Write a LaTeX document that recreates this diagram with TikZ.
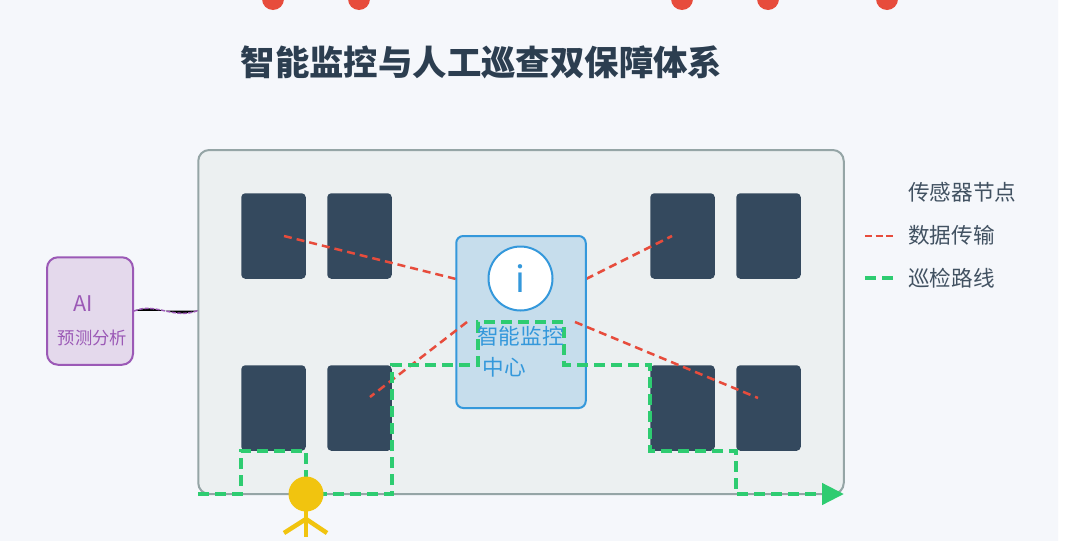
\documentclass[tikz,border=0pt]{standalone}
\usepackage{fontspec}
\setmainfont{Noto Sans CJK SC}
\usetikzlibrary{arrows.meta}
\definecolor{panelbg}{HTML}{F5F7FB}
\definecolor{hallbg}{HTML}{ECF0F1}
\definecolor{hallline}{HTML}{95A5A6}
\definecolor{sensorblue}{HTML}{34495E}
\definecolor{hubbg}{HTML}{C6DDEC}
\definecolor{hubline}{HTML}{3498DB}
\definecolor{aibg}{HTML}{E4D9EC}
\definecolor{ailine}{HTML}{9B59B6}
\definecolor{datared}{HTML}{E74C3C}
\definecolor{routegreen}{HTML}{2ECC71}
\definecolor{guardyellow}{HTML}{F1C40F}
\definecolor{inkdark}{HTML}{2C3E50}
\tikzset{
  sensor/.style={rectangle, rounded corners=4pt, fill=sensorblue, minimum width=64.5pt, minimum height=85.5pt, inner sep=0},
  datalink/.style={datared, line width=2.5pt, dash pattern=on 8pt off 5pt},
  route/.style={routegreen, line width=4.5pt, dash pattern=on 11pt off 6pt},
  legendtext/.style={anchor=west, font=\fontsize{21.6pt}{24pt}\selectfont, text=inkdark!90, inner sep=0},
  limb/.style={guardyellow, line width=4.5pt},
}
\begin{document}
\begin{tikzpicture}[x=1pt, y=-1pt]
\useasboundingbox (0,0) rectangle (1080,541);
\fill[white] (0,0) rectangle (1080,541);
\fill[panelbg, rounded corners=22pt] (-40,-40) rectangle (1058,600);
\foreach \x in {273, 359, 682, 768, 887}
  \fill[datared] (\x,-1) circle (11);
\node[text=inkdark, font=\fontsize{34.4pt}{38pt}\selectfont\bfseries, inner sep=0] (title) at (481.5,62) {智能监控与人工巡查双保障体系};
% building
\node[draw=hallline, fill=hallbg, line width=2pt, rounded corners=11pt, minimum width=645.5pt, minimum height=344pt, inner sep=0] (hall) at (521,322) {};
\foreach \name/\x/\y in {sa/273.5/236, sb/359.5/236, sc/682.5/236, sd/768.5/236, se/273.5/408, sf/359.5/408, sg/682.5/408, sh/768.5/408}
  \node[sensor] (\name) at (\x,\y) {};
% data links
\coordinate (la) at (284,236);
\coordinate (lb) at (672,236);
\coordinate (lc) at (370,397);
\coordinate (ld) at (758,398);
\coordinate (ha) at (456,279);
\coordinate (hb) at (586,279);
\coordinate (hc) at (467,322);
\coordinate (hd) at (575,322);
\draw[datalink] (la) -- (ha);
\draw[datalink] (hb) -- (lb);
% center
\node[draw=hubline, fill=hubbg, line width=2pt, rounded corners=7pt, minimum width=129.5pt, minimum height=172pt, inner sep=0] (hub) at (521,322) {};
\node[circle, draw=hubline, fill=white, line width=2pt, minimum size=64pt, inner sep=0, text=hubline, font=\fontsize{36pt}{40pt}\selectfont] (hubicon) at (520.5,278.5) {i};
\draw[datalink] (hc) -- (lc);
\draw[datalink] (hd) -- (ld);
% patrol route
\coordinate (routestart) at (198,494);
\coordinate (routeend) at (844,494);
\draw[route, -{Triangle[length=22pt, width=21pt]}] (routestart) -- (241,494) -- (241,451) -- (306,451) -- (306,494) -- (392,494) -- (392,365) -- (478,365) -- (478,322) -- (564,322) -- (564,365) -- (650,365) -- (650,451) -- (736,451) -- (736,494) -- (routeend);
\node[text=hubline, font=\fontsize{21.6pt}{24pt}\selectfont, inner sep=0] (hubtexta) at (520.5,336) {智能监控};
\node[text=hubline, font=\fontsize{21.6pt}{24pt}\selectfont, inner sep=0] (hubtextb) at (504,367) {中心};
% ai box
\node[draw=ailine, fill=aibg, line width=2pt, rounded corners=11pt, minimum width=86pt, minimum height=107.5pt, inner sep=0] (ai) at (90,311) {};
\node[text=ailine, font=\fontsize{21.6pt}{24pt}\selectfont, inner sep=0] (aitext) at (83,304) {AI};
\node[text=ailine, font=\fontsize{17.3pt}{20pt}\selectfont, inner sep=0] (aisub) at (92.5,338) {预测分析};
\coordinate (wallpt) at (198,310.5);
\draw[ailine, fill=black, line width=1.5pt, dash pattern=on 4pt off 1.5pt] (ai.east) .. controls (156,302) and (174,320) .. (wallpt);
% guard
\draw[limb] (306,494) -- (306,520);
\draw[limb] (306,519) -- (284,533);
\draw[limb] (306,519) -- (327,533);
\draw[limb] (306,519) -- (306,537);
\node[circle, fill=guardyellow, minimum size=35pt, inner sep=0] (guard) at (306,494) {};
% legend
\coordinate (lra) at (865,236);
\coordinate (lrb) at (893,236);
\coordinate (lga) at (865,278);
\coordinate (lgb) at (893,278);
\draw[datared, line width=2.5pt, dash pattern=on 7pt off 3.5pt] (lra) -- (lrb);
\draw[route] (lga) -- (lgb);
\node[legendtext] (lega) at (908,192) {传感器节点};
\node[legendtext] (legb) at (908,235) {数据传输};
\node[legendtext] (legc) at (908,278) {巡检路线};
\end{tikzpicture}
\end{document}
